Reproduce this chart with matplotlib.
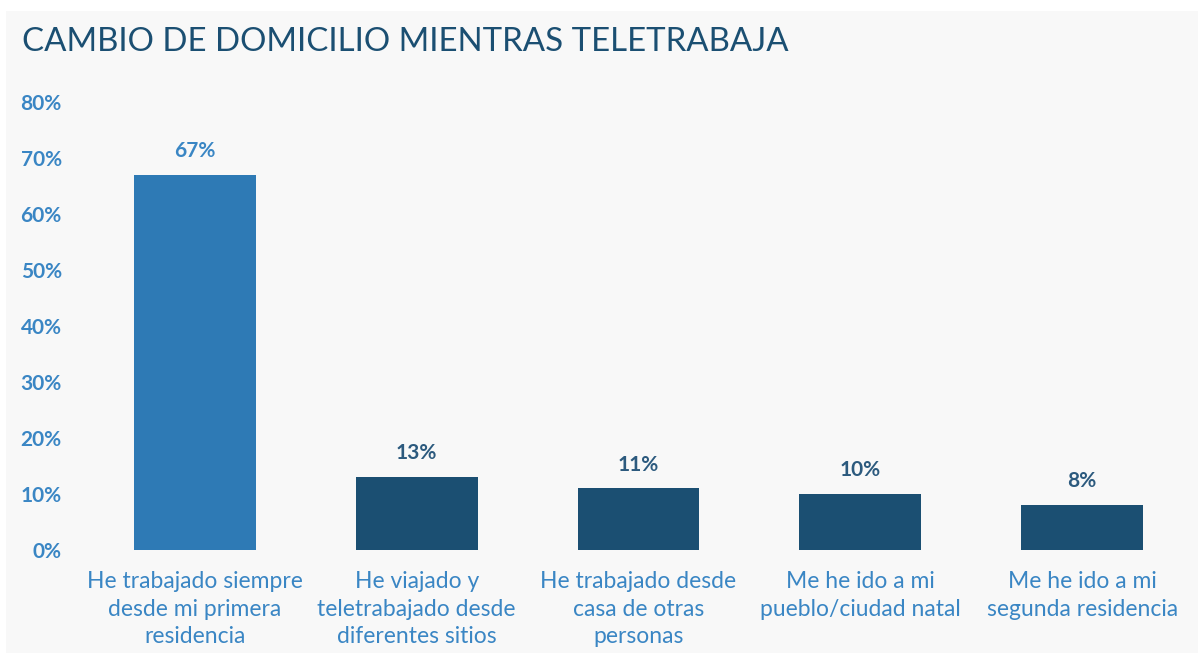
import matplotlib
matplotlib.use("Agg")
import matplotlib.pyplot as plt
from matplotlib.patches import Rectangle

categories = [
    "He trabajado siempre\ndesde mi primera\nresidencia",
    "He viajado y\nteletrabajado desde\ndiferentes sitios",
    "He trabajado desde\ncasa de otras\npersonas",
    "Me he ido a mi\npueblo/ciudad natal",
    "Me he ido a mi\nsegunda residencia",
]
values = [0.67, 0.13, 0.11, 0.10, 0.08]
value_labels = ["67%", "13%", "11%", "10%", "8%"]
yticks = [0, 0.1, 0.2, 0.3, 0.4, 0.5, 0.6, 0.7, 0.8]
ytick_labels = ["0%", "10%", "20%", "30%", "40%", "50%", "60%", "70%", "80%"]

FONT = "Lato"
BG = "#f8f8f8"
LIGHT = "#2e7ab5"
DARK = "#1b4f72"
TICK = "#3a86c4"

fig = plt.figure(figsize=(11.99, 6.53), dpi=100)
fig.patch.set_facecolor("white")
fig.patches.append(Rectangle((6 / 1199, 0), 1 - 7 / 1199, 1 - 11 / 653,
                             transform=fig.transFigure, facecolor=BG,
                             edgecolor="none", zorder=-10))

ax = fig.add_axes([84 / 1199, (653 - 550) / 653, (1193 - 84) / 1199, (550 - 102) / 653])
ax.set_facecolor("none")
x = range(len(values))
colors = [LIGHT] + [DARK] * (len(values) - 1)
bars = ax.bar(x, values, width=0.55, color=colors)
ax.set_xlim(-0.5, len(values) - 0.5)
ax.set_ylim(0, 0.8)
ax.set_yticks(yticks)
ax.set_yticklabels(ytick_labels, fontsize=15, color=TICK, fontweight="bold", family=FONT)
ax.set_xticks(list(x))
ax.set_xticklabels(categories, fontsize=16.5, color=TICK, family=FONT, linespacing=1.4)
ax.tick_params(axis="both", length=0)
ax.tick_params(axis="y", pad=16)
ax.tick_params(axis="x", pad=15)
for s in ax.spines.values():
    s.set_visible(False)

label_colors = [TICK] + ["#2c5a7e"] * (len(values) - 1)
for xi, v, lab, c in zip(x, values, value_labels, label_colors):
    ax.annotate(lab, (xi, v), xytext=(0, 10), textcoords="offset points",
                ha="center", va="bottom", fontsize=15, fontweight="bold",
                color=c, family=FONT)

fig.text(22 / 1199, 1 - 42 / 653, "CAMBIO DE DOMICILIO MIENTRAS TELETRABAJA",
         fontsize=23.8, color=DARK, family=FONT, va="center", ha="left")

fig.savefig("out.png", dpi=100, facecolor=fig.get_facecolor())
